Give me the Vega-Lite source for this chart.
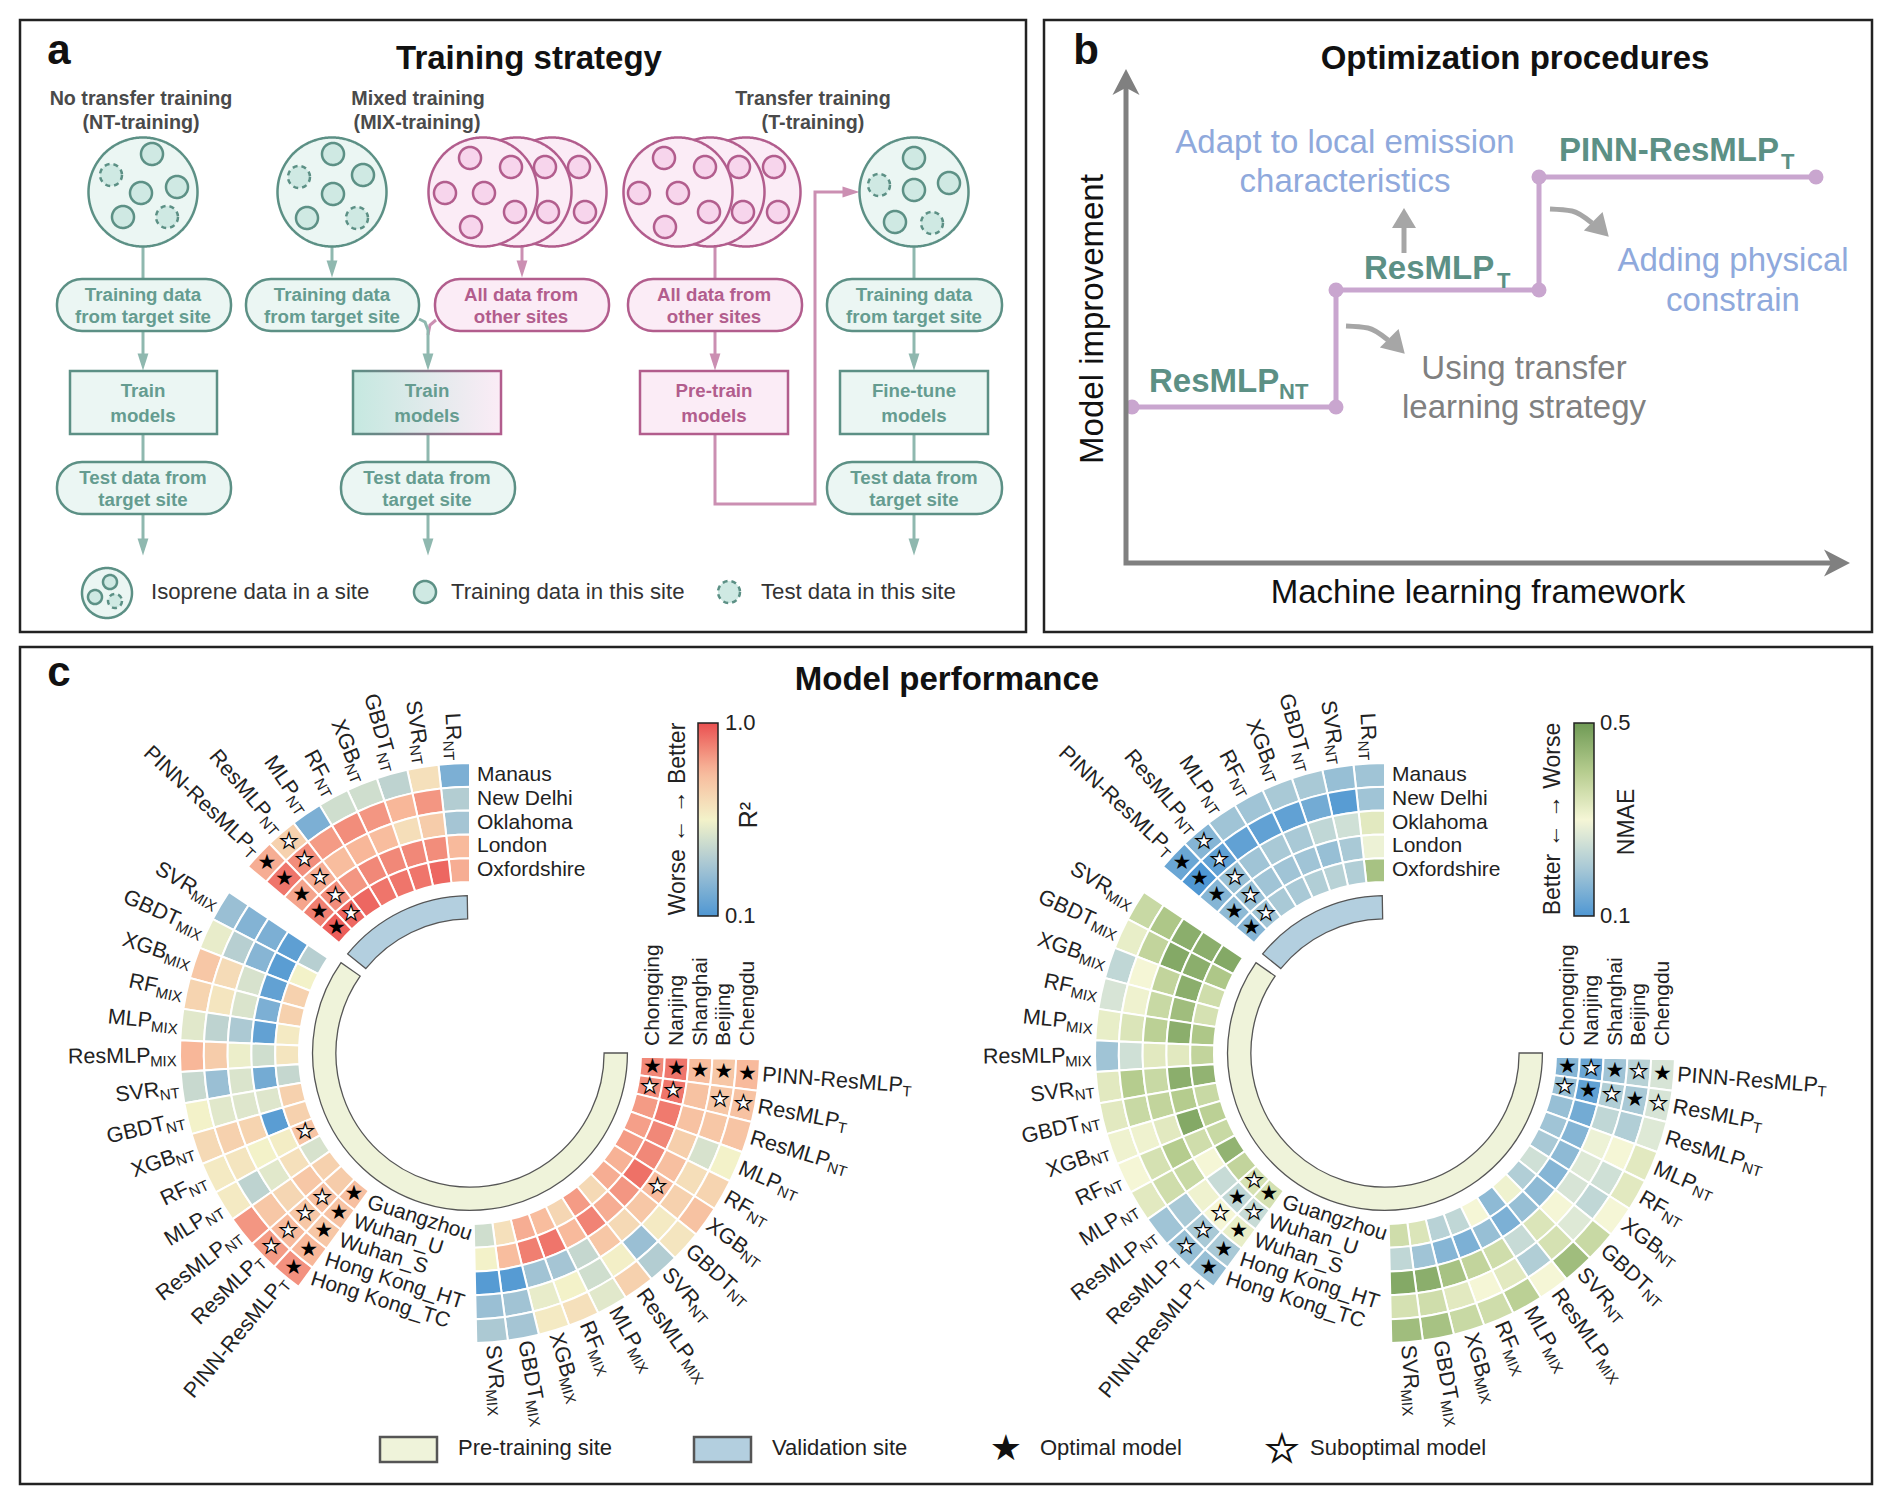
{"$schema":"https://vega.github.io/schema/vega-lite/v6.json","width":1892,"height":1505,"padding":0,"autosize":{"type":"none"},"background":"white","config":{"view":{"stroke":null},"text":{"font":"Liberation Sans"}},
"datasets":{"cells":[
{"p":"R2","m":"LR_NT","s":"Manaus","v":0.22},{"p":"R2","m":"SVR_NT","s":"Manaus","v":0.62},{"p":"R2","m":"GBDT_NT","s":"Manaus","v":0.40},{"p":"R2","m":"XGB_NT","s":"Manaus","v":0.45},{"p":"R2","m":"RF_NT","s":"Manaus","v":0.45},{"p":"R2","m":"MLP_NT","s":"Manaus","v":0.22},{"p":"R2","m":"ResMLP_NT","s":"Manaus","v":0.68,"k":"sub"},{"p":"R2","m":"PINN-ResMLP_T","s":"Manaus","v":0.80,"k":"opt"},
{"p":"R2","m":"LR_NT","s":"New Delhi","v":0.37},{"p":"R2","m":"SVR_NT","s":"New Delhi","v":0.85},{"p":"R2","m":"GBDT_NT","s":"New Delhi","v":0.78},{"p":"R2","m":"XGB_NT","s":"New Delhi","v":0.85},{"p":"R2","m":"RF_NT","s":"New Delhi","v":0.87},{"p":"R2","m":"MLP_NT","s":"New Delhi","v":0.84},{"p":"R2","m":"ResMLP_NT","s":"New Delhi","v":0.87,"k":"sub"},{"p":"R2","m":"PINN-ResMLP_T","s":"New Delhi","v":0.92,"k":"opt"},
{"p":"R2","m":"LR_NT","s":"Oklahoma","v":0.33},{"p":"R2","m":"SVR_NT","s":"Oklahoma","v":0.70},{"p":"R2","m":"GBDT_NT","s":"Oklahoma","v":0.63},{"p":"R2","m":"XGB_NT","s":"Oklahoma","v":0.76},{"p":"R2","m":"RF_NT","s":"Oklahoma","v":0.78},{"p":"R2","m":"MLP_NT","s":"Oklahoma","v":0.76},{"p":"R2","m":"ResMLP_NT","s":"Oklahoma","v":0.80,"k":"sub"},{"p":"R2","m":"PINN-ResMLP_T","s":"Oklahoma","v":0.82,"k":"opt"},
{"p":"R2","m":"LR_NT","s":"London","v":0.77},{"p":"R2","m":"SVR_NT","s":"London","v":0.87},{"p":"R2","m":"GBDT_NT","s":"London","v":0.88},{"p":"R2","m":"XGB_NT","s":"London","v":0.88},{"p":"R2","m":"RF_NT","s":"London","v":0.88},{"p":"R2","m":"MLP_NT","s":"London","v":0.85},{"p":"R2","m":"ResMLP_NT","s":"London","v":0.87,"k":"sub"},{"p":"R2","m":"PINN-ResMLP_T","s":"London","v":0.90,"k":"opt"},
{"p":"R2","m":"LR_NT","s":"Oxfordshire","v":0.80},{"p":"R2","m":"SVR_NT","s":"Oxfordshire","v":0.95},{"p":"R2","m":"GBDT_NT","s":"Oxfordshire","v":0.92},{"p":"R2","m":"XGB_NT","s":"Oxfordshire","v":0.92},{"p":"R2","m":"RF_NT","s":"Oxfordshire","v":0.92},{"p":"R2","m":"MLP_NT","s":"Oxfordshire","v":0.95},{"p":"R2","m":"ResMLP_NT","s":"Oxfordshire","v":0.95,"k":"sub"},{"p":"R2","m":"PINN-ResMLP_T","s":"Oxfordshire","v":0.97,"k":"opt"},
{"p":"R2","m":"SVR_MIX","s":"Hong Kong_TC","v":0.30},{"p":"R2","m":"SVR_MIX","s":"Hong Kong_HT","v":0.24},{"p":"R2","m":"SVR_MIX","s":"Wuhan_S","v":0.22},{"p":"R2","m":"SVR_MIX","s":"Wuhan_U","v":0.14},{"p":"R2","m":"SVR_MIX","s":"Guangzhou","v":0.38},
{"p":"R2","m":"GBDT_MIX","s":"Hong Kong_TC","v":0.52},{"p":"R2","m":"GBDT_MIX","s":"Hong Kong_HT","v":0.38},{"p":"R2","m":"GBDT_MIX","s":"Wuhan_S","v":0.25},{"p":"R2","m":"GBDT_MIX","s":"Wuhan_U","v":0.13},{"p":"R2","m":"GBDT_MIX","s":"Guangzhou","v":0.55},
{"p":"R2","m":"XGB_MIX","s":"Hong Kong_TC","v":0.72},{"p":"R2","m":"XGB_MIX","s":"Hong Kong_HT","v":0.64},{"p":"R2","m":"XGB_MIX","s":"Wuhan_S","v":0.47},{"p":"R2","m":"XGB_MIX","s":"Wuhan_U","v":0.15},{"p":"R2","m":"XGB_MIX","s":"Guangzhou","v":0.68},
{"p":"R2","m":"RF_MIX","s":"Hong Kong_TC","v":0.67},{"p":"R2","m":"RF_MIX","s":"Hong Kong_HT","v":0.60},{"p":"R2","m":"RF_MIX","s":"Wuhan_S","v":0.48},{"p":"R2","m":"RF_MIX","s":"Wuhan_U","v":0.22},{"p":"R2","m":"RF_MIX","s":"Guangzhou","v":0.68},
{"p":"R2","m":"MLP_MIX","s":"Hong Kong_TC","v":0.50},{"p":"R2","m":"MLP_MIX","s":"Hong Kong_HT","v":0.40},{"p":"R2","m":"MLP_MIX","s":"Wuhan_S","v":0.35},{"p":"R2","m":"MLP_MIX","s":"Wuhan_U","v":0.15},{"p":"R2","m":"MLP_MIX","s":"Guangzhou","v":0.58},
{"p":"R2","m":"ResMLP_MIX","s":"Hong Kong_TC","v":0.78},{"p":"R2","m":"ResMLP_MIX","s":"Hong Kong_HT","v":0.70},{"p":"R2","m":"ResMLP_MIX","s":"Wuhan_S","v":0.53},{"p":"R2","m":"ResMLP_MIX","s":"Wuhan_U","v":0.45},{"p":"R2","m":"ResMLP_MIX","s":"Guangzhou","v":0.60},
{"p":"R2","m":"SVR_NT","s":"Hong Kong_TC","v":0.43},{"p":"R2","m":"SVR_NT","s":"Hong Kong_HT","v":0.30},{"p":"R2","m":"SVR_NT","s":"Wuhan_S","v":0.48},{"p":"R2","m":"SVR_NT","s":"Wuhan_U","v":0.20},{"p":"R2","m":"SVR_NT","s":"Guangzhou","v":0.42},
{"p":"R2","m":"GBDT_NT","s":"Hong Kong_TC","v":0.55},{"p":"R2","m":"GBDT_NT","s":"Hong Kong_HT","v":0.50},{"p":"R2","m":"GBDT_NT","s":"Wuhan_S","v":0.49},{"p":"R2","m":"GBDT_NT","s":"Wuhan_U","v":0.49},{"p":"R2","m":"GBDT_NT","s":"Guangzhou","v":0.68},
{"p":"R2","m":"XGB_NT","s":"Hong Kong_TC","v":0.65},{"p":"R2","m":"XGB_NT","s":"Hong Kong_HT","v":0.68},{"p":"R2","m":"XGB_NT","s":"Wuhan_S","v":0.67},{"p":"R2","m":"XGB_NT","s":"Wuhan_U","v":0.13},{"p":"R2","m":"XGB_NT","s":"Guangzhou","v":0.68},
{"p":"R2","m":"RF_NT","s":"Hong Kong_TC","v":0.58},{"p":"R2","m":"RF_NT","s":"Hong Kong_HT","v":0.60},{"p":"R2","m":"RF_NT","s":"Wuhan_S","v":0.55},{"p":"R2","m":"RF_NT","s":"Wuhan_U","v":0.57},{"p":"R2","m":"RF_NT","s":"Guangzhou","v":0.73,"k":"sub"},
{"p":"R2","m":"MLP_NT","s":"Hong Kong_TC","v":0.58},{"p":"R2","m":"MLP_NT","s":"Hong Kong_HT","v":0.40},{"p":"R2","m":"MLP_NT","s":"Wuhan_S","v":0.50},{"p":"R2","m":"MLP_NT","s":"Wuhan_U","v":0.62},{"p":"R2","m":"MLP_NT","s":"Guangzhou","v":0.47},
{"p":"R2","m":"ResMLP_NT","s":"Hong Kong_TC","v":0.85},{"p":"R2","m":"ResMLP_NT","s":"Hong Kong_HT","v":0.72},{"p":"R2","m":"ResMLP_NT","s":"Wuhan_S","v":0.66},{"p":"R2","m":"ResMLP_NT","s":"Wuhan_U","v":0.72},{"p":"R2","m":"ResMLP_NT","s":"Guangzhou","v":0.68},
{"p":"R2","m":"ResMLP_T","s":"Hong Kong_TC","v":0.84,"k":"sub"},{"p":"R2","m":"ResMLP_T","s":"Hong Kong_HT","v":0.77,"k":"sub"},{"p":"R2","m":"ResMLP_T","s":"Wuhan_S","v":0.72,"k":"sub"},{"p":"R2","m":"ResMLP_T","s":"Wuhan_U","v":0.75,"k":"sub"},{"p":"R2","m":"ResMLP_T","s":"Guangzhou","v":0.70},
{"p":"R2","m":"PINN-ResMLP_T","s":"Hong Kong_TC","v":0.86,"k":"opt"},{"p":"R2","m":"PINN-ResMLP_T","s":"Hong Kong_HT","v":0.78,"k":"opt"},{"p":"R2","m":"PINN-ResMLP_T","s":"Wuhan_S","v":0.72,"k":"opt"},{"p":"R2","m":"PINN-ResMLP_T","s":"Wuhan_U","v":0.74,"k":"opt"},{"p":"R2","m":"PINN-ResMLP_T","s":"Guangzhou","v":0.75,"k":"opt"},
{"p":"R2","m":"PINN-ResMLP_T","s":"Chongqing","v":0.88,"k":"opt"},{"p":"R2","m":"PINN-ResMLP_T","s":"Nanjing","v":0.92,"k":"opt"},{"p":"R2","m":"PINN-ResMLP_T","s":"Shanghai","v":0.76,"k":"opt"},{"p":"R2","m":"PINN-ResMLP_T","s":"Beijing","v":0.72,"k":"opt"},{"p":"R2","m":"PINN-ResMLP_T","s":"Chengdu","v":0.77,"k":"opt"},
{"p":"R2","m":"ResMLP_T","s":"Chongqing","v":0.87,"k":"sub"},{"p":"R2","m":"ResMLP_T","s":"Nanjing","v":0.92,"k":"sub"},{"p":"R2","m":"ResMLP_T","s":"Shanghai","v":0.74},{"p":"R2","m":"ResMLP_T","s":"Beijing","v":0.72,"k":"sub"},{"p":"R2","m":"ResMLP_T","s":"Chengdu","v":0.74,"k":"sub"},
{"p":"R2","m":"ResMLP_NT","s":"Chongqing","v":0.84},{"p":"R2","m":"ResMLP_NT","s":"Nanjing","v":0.91},{"p":"R2","m":"ResMLP_NT","s":"Shanghai","v":0.74},{"p":"R2","m":"ResMLP_NT","s":"Beijing","v":0.72},{"p":"R2","m":"ResMLP_NT","s":"Chengdu","v":0.73},
{"p":"R2","m":"MLP_NT","s":"Chongqing","v":0.83},{"p":"R2","m":"MLP_NT","s":"Nanjing","v":0.88},{"p":"R2","m":"MLP_NT","s":"Shanghai","v":0.69},{"p":"R2","m":"MLP_NT","s":"Beijing","v":0.47},{"p":"R2","m":"MLP_NT","s":"Chengdu","v":0.55},
{"p":"R2","m":"RF_NT","s":"Chongqing","v":0.84},{"p":"R2","m":"RF_NT","s":"Nanjing","v":0.88},{"p":"R2","m":"RF_NT","s":"Shanghai","v":0.75},{"p":"R2","m":"RF_NT","s":"Beijing","v":0.63},{"p":"R2","m":"RF_NT","s":"Chengdu","v":0.67},
{"p":"R2","m":"XGB_NT","s":"Chongqing","v":0.79},{"p":"R2","m":"XGB_NT","s":"Nanjing","v":0.93},{"p":"R2","m":"XGB_NT","s":"Shanghai","v":0.77,"k":"sub"},{"p":"R2","m":"XGB_NT","s":"Beijing","v":0.68},{"p":"R2","m":"XGB_NT","s":"Chengdu","v":0.74},
{"p":"R2","m":"GBDT_NT","s":"Chongqing","v":0.80},{"p":"R2","m":"GBDT_NT","s":"Nanjing","v":0.85},{"p":"R2","m":"GBDT_NT","s":"Shanghai","v":0.72},{"p":"R2","m":"GBDT_NT","s":"Beijing","v":0.58},{"p":"R2","m":"GBDT_NT","s":"Chengdu","v":0.60},
{"p":"R2","m":"SVR_NT","s":"Chongqing","v":0.65},{"p":"R2","m":"SVR_NT","s":"Nanjing","v":0.80},{"p":"R2","m":"SVR_NT","s":"Shanghai","v":0.65},{"p":"R2","m":"SVR_NT","s":"Beijing","v":0.30},{"p":"R2","m":"SVR_NT","s":"Chengdu","v":0.37},
{"p":"R2","m":"ResMLP_MIX","s":"Chongqing","v":0.84},{"p":"R2","m":"ResMLP_MIX","s":"Nanjing","v":0.89},{"p":"R2","m":"ResMLP_MIX","s":"Shanghai","v":0.72},{"p":"R2","m":"ResMLP_MIX","s":"Beijing","v":0.56},{"p":"R2","m":"ResMLP_MIX","s":"Chengdu","v":0.68},
{"p":"R2","m":"MLP_MIX","s":"Chongqing","v":0.66},{"p":"R2","m":"MLP_MIX","s":"Nanjing","v":0.77},{"p":"R2","m":"MLP_MIX","s":"Shanghai","v":0.42},{"p":"R2","m":"MLP_MIX","s":"Beijing","v":0.45},{"p":"R2","m":"MLP_MIX","s":"Chengdu","v":0.50},
{"p":"R2","m":"RF_MIX","s":"Chongqing","v":0.76},{"p":"R2","m":"RF_MIX","s":"Nanjing","v":0.92},{"p":"R2","m":"RF_MIX","s":"Shanghai","v":0.33},{"p":"R2","m":"RF_MIX","s":"Beijing","v":0.55},{"p":"R2","m":"RF_MIX","s":"Chengdu","v":0.62},
{"p":"R2","m":"XGB_MIX","s":"Chongqing","v":0.80},{"p":"R2","m":"XGB_MIX","s":"Nanjing","v":0.90},{"p":"R2","m":"XGB_MIX","s":"Shanghai","v":0.32},{"p":"R2","m":"XGB_MIX","s":"Beijing","v":0.52},{"p":"R2","m":"XGB_MIX","s":"Chengdu","v":0.58},
{"p":"R2","m":"GBDT_MIX","s":"Chongqing","v":0.62},{"p":"R2","m":"GBDT_MIX","s":"Nanjing","v":0.76},{"p":"R2","m":"GBDT_MIX","s":"Shanghai","v":0.12},{"p":"R2","m":"GBDT_MIX","s":"Beijing","v":0.32},{"p":"R2","m":"GBDT_MIX","s":"Chengdu","v":0.33},
{"p":"R2","m":"SVR_MIX","s":"Chongqing","v":0.45},{"p":"R2","m":"SVR_MIX","s":"Nanjing","v":0.55},{"p":"R2","m":"SVR_MIX","s":"Shanghai","v":0.12},{"p":"R2","m":"SVR_MIX","s":"Beijing","v":0.30},{"p":"R2","m":"SVR_MIX","s":"Chengdu","v":0.35},
{"p":"NMAE","m":"LR_NT","s":"Manaus","v":0.19},{"p":"NMAE","m":"SVR_NT","s":"Manaus","v":0.18},{"p":"NMAE","m":"GBDT_NT","s":"Manaus","v":0.20},{"p":"NMAE","m":"XGB_NT","s":"Manaus","v":0.20},{"p":"NMAE","m":"RF_NT","s":"Manaus","v":0.19},{"p":"NMAE","m":"MLP_NT","s":"Manaus","v":0.19},{"p":"NMAE","m":"ResMLP_NT","s":"Manaus","v":0.16,"k":"sub"},{"p":"NMAE","m":"PINN-ResMLP_T","s":"Manaus","v":0.13,"k":"opt"},
{"p":"NMAE","m":"LR_NT","s":"New Delhi","v":0.19},{"p":"NMAE","m":"SVR_NT","s":"New Delhi","v":0.11},{"p":"NMAE","m":"GBDT_NT","s":"New Delhi","v":0.14},{"p":"NMAE","m":"XGB_NT","s":"New Delhi","v":0.12},{"p":"NMAE","m":"RF_NT","s":"New Delhi","v":0.12},{"p":"NMAE","m":"MLP_NT","s":"New Delhi","v":0.12},{"p":"NMAE","m":"ResMLP_NT","s":"New Delhi","v":0.12,"k":"sub"},{"p":"NMAE","m":"PINN-ResMLP_T","s":"New Delhi","v":0.10,"k":"opt"},
{"p":"NMAE","m":"LR_NT","s":"Oklahoma","v":0.33},{"p":"NMAE","m":"SVR_NT","s":"Oklahoma","v":0.25},{"p":"NMAE","m":"GBDT_NT","s":"Oklahoma","v":0.23},{"p":"NMAE","m":"XGB_NT","s":"Oklahoma","v":0.20},{"p":"NMAE","m":"RF_NT","s":"Oklahoma","v":0.20},{"p":"NMAE","m":"MLP_NT","s":"Oklahoma","v":0.19},{"p":"NMAE","m":"ResMLP_NT","s":"Oklahoma","v":0.18,"k":"sub"},{"p":"NMAE","m":"PINN-ResMLP_T","s":"Oklahoma","v":0.16,"k":"opt"},
{"p":"NMAE","m":"LR_NT","s":"London","v":0.29},{"p":"NMAE","m":"SVR_NT","s":"London","v":0.20},{"p":"NMAE","m":"GBDT_NT","s":"London","v":0.18},{"p":"NMAE","m":"XGB_NT","s":"London","v":0.19},{"p":"NMAE","m":"RF_NT","s":"London","v":0.19},{"p":"NMAE","m":"MLP_NT","s":"London","v":0.19},{"p":"NMAE","m":"ResMLP_NT","s":"London","v":0.18,"k":"sub"},{"p":"NMAE","m":"PINN-ResMLP_T","s":"London","v":0.17,"k":"opt"},
{"p":"NMAE","m":"LR_NT","s":"Oxfordshire","v":0.42},{"p":"NMAE","m":"SVR_NT","s":"Oxfordshire","v":0.21},{"p":"NMAE","m":"GBDT_NT","s":"Oxfordshire","v":0.22},{"p":"NMAE","m":"XGB_NT","s":"Oxfordshire","v":0.21},{"p":"NMAE","m":"RF_NT","s":"Oxfordshire","v":0.20},{"p":"NMAE","m":"MLP_NT","s":"Oxfordshire","v":0.20},{"p":"NMAE","m":"ResMLP_NT","s":"Oxfordshire","v":0.19,"k":"sub"},{"p":"NMAE","m":"PINN-ResMLP_T","s":"Oxfordshire","v":0.16,"k":"opt"},
{"p":"NMAE","m":"SVR_MIX","s":"Hong Kong_TC","v":0.37},{"p":"NMAE","m":"SVR_MIX","s":"Hong Kong_HT","v":0.41},{"p":"NMAE","m":"SVR_MIX","s":"Wuhan_S","v":0.46},{"p":"NMAE","m":"SVR_MIX","s":"Wuhan_U","v":0.46},{"p":"NMAE","m":"SVR_MIX","s":"Guangzhou","v":0.47},
{"p":"NMAE","m":"GBDT_MIX","s":"Hong Kong_TC","v":0.32},{"p":"NMAE","m":"GBDT_MIX","s":"Hong Kong_HT","v":0.38},{"p":"NMAE","m":"GBDT_MIX","s":"Wuhan_S","v":0.47},{"p":"NMAE","m":"GBDT_MIX","s":"Wuhan_U","v":0.46},{"p":"NMAE","m":"GBDT_MIX","s":"Guangzhou","v":0.41},
{"p":"NMAE","m":"XGB_MIX","s":"Hong Kong_TC","v":0.23},{"p":"NMAE","m":"XGB_MIX","s":"Hong Kong_HT","v":0.30},{"p":"NMAE","m":"XGB_MIX","s":"Wuhan_S","v":0.38},{"p":"NMAE","m":"XGB_MIX","s":"Wuhan_U","v":0.46},{"p":"NMAE","m":"XGB_MIX","s":"Guangzhou","v":0.36},
{"p":"NMAE","m":"RF_MIX","s":"Hong Kong_TC","v":0.26},{"p":"NMAE","m":"RF_MIX","s":"Hong Kong_HT","v":0.31},{"p":"NMAE","m":"RF_MIX","s":"Wuhan_S","v":0.37},{"p":"NMAE","m":"RF_MIX","s":"Wuhan_U","v":0.43},{"p":"NMAE","m":"RF_MIX","s":"Guangzhou","v":0.35},
{"p":"NMAE","m":"MLP_MIX","s":"Hong Kong_TC","v":0.32},{"p":"NMAE","m":"MLP_MIX","s":"Hong Kong_HT","v":0.34},{"p":"NMAE","m":"MLP_MIX","s":"Wuhan_S","v":0.39},{"p":"NMAE","m":"MLP_MIX","s":"Wuhan_U","v":0.46},{"p":"NMAE","m":"MLP_MIX","s":"Guangzhou","v":0.41},
{"p":"NMAE","m":"ResMLP_MIX","s":"Hong Kong_TC","v":0.19},{"p":"NMAE","m":"ResMLP_MIX","s":"Hong Kong_HT","v":0.25},{"p":"NMAE","m":"ResMLP_MIX","s":"Wuhan_S","v":0.33},{"p":"NMAE","m":"ResMLP_MIX","s":"Wuhan_U","v":0.33},{"p":"NMAE","m":"ResMLP_MIX","s":"Guangzhou","v":0.38},
{"p":"NMAE","m":"SVR_NT","s":"Hong Kong_TC","v":0.33},{"p":"NMAE","m":"SVR_NT","s":"Hong Kong_HT","v":0.40},{"p":"NMAE","m":"SVR_NT","s":"Wuhan_S","v":0.37},{"p":"NMAE","m":"SVR_NT","s":"Wuhan_U","v":0.46},{"p":"NMAE","m":"SVR_NT","s":"Guangzhou","v":0.45},
{"p":"NMAE","m":"GBDT_NT","s":"Hong Kong_TC","v":0.33},{"p":"NMAE","m":"GBDT_NT","s":"Hong Kong_HT","v":0.37},{"p":"NMAE","m":"GBDT_NT","s":"Wuhan_S","v":0.38},{"p":"NMAE","m":"GBDT_NT","s":"Wuhan_U","v":0.40},{"p":"NMAE","m":"GBDT_NT","s":"Guangzhou","v":0.37},
{"p":"NMAE","m":"XGB_NT","s":"Hong Kong_TC","v":0.31},{"p":"NMAE","m":"XGB_NT","s":"Hong Kong_HT","v":0.31},{"p":"NMAE","m":"XGB_NT","s":"Wuhan_S","v":0.33},{"p":"NMAE","m":"XGB_NT","s":"Wuhan_U","v":0.47},{"p":"NMAE","m":"XGB_NT","s":"Guangzhou","v":0.39},
{"p":"NMAE","m":"RF_NT","s":"Hong Kong_TC","v":0.30},{"p":"NMAE","m":"RF_NT","s":"Hong Kong_HT","v":0.35},{"p":"NMAE","m":"RF_NT","s":"Wuhan_S","v":0.40},{"p":"NMAE","m":"RF_NT","s":"Wuhan_U","v":0.36},{"p":"NMAE","m":"RF_NT","s":"Guangzhou","v":0.37},
{"p":"NMAE","m":"MLP_NT","s":"Hong Kong_TC","v":0.33},{"p":"NMAE","m":"MLP_NT","s":"Hong Kong_HT","v":0.36},{"p":"NMAE","m":"MLP_NT","s":"Wuhan_S","v":0.37},{"p":"NMAE","m":"MLP_NT","s":"Wuhan_U","v":0.30},{"p":"NMAE","m":"MLP_NT","s":"Guangzhou","v":0.45},
{"p":"NMAE","m":"ResMLP_NT","s":"Hong Kong_TC","v":0.19},{"p":"NMAE","m":"ResMLP_NT","s":"Hong Kong_HT","v":0.20},{"p":"NMAE","m":"ResMLP_NT","s":"Wuhan_S","v":0.31},{"p":"NMAE","m":"ResMLP_NT","s":"Wuhan_U","v":0.24},{"p":"NMAE","m":"ResMLP_NT","s":"Guangzhou","v":0.38},
{"p":"NMAE","m":"ResMLP_T","s":"Hong Kong_TC","v":0.18,"k":"sub"},{"p":"NMAE","m":"ResMLP_T","s":"Hong Kong_HT","v":0.20,"k":"sub"},{"p":"NMAE","m":"ResMLP_T","s":"Wuhan_S","v":0.30,"k":"sub"},{"p":"NMAE","m":"ResMLP_T","s":"Wuhan_U","v":0.23,"k":"opt"},{"p":"NMAE","m":"ResMLP_T","s":"Guangzhou","v":0.35,"k":"sub"},
{"p":"NMAE","m":"PINN-ResMLP_T","s":"Hong Kong_TC","v":0.18,"k":"opt"},{"p":"NMAE","m":"PINN-ResMLP_T","s":"Hong Kong_HT","v":0.20,"k":"opt"},{"p":"NMAE","m":"PINN-ResMLP_T","s":"Wuhan_S","v":0.32,"k":"opt"},{"p":"NMAE","m":"PINN-ResMLP_T","s":"Wuhan_U","v":0.24,"k":"sub"},{"p":"NMAE","m":"PINN-ResMLP_T","s":"Guangzhou","v":0.35,"k":"opt"},
{"p":"NMAE","m":"PINN-ResMLP_T","s":"Chongqing","v":0.16,"k":"opt"},{"p":"NMAE","m":"PINN-ResMLP_T","s":"Nanjing","v":0.13,"k":"sub"},{"p":"NMAE","m":"PINN-ResMLP_T","s":"Shanghai","v":0.19,"k":"opt"},{"p":"NMAE","m":"PINN-ResMLP_T","s":"Beijing","v":0.22,"k":"sub"},{"p":"NMAE","m":"PINN-ResMLP_T","s":"Chengdu","v":0.26,"k":"opt"},
{"p":"NMAE","m":"ResMLP_T","s":"Chongqing","v":0.18,"k":"sub"},{"p":"NMAE","m":"ResMLP_T","s":"Nanjing","v":0.12,"k":"opt"},{"p":"NMAE","m":"ResMLP_T","s":"Shanghai","v":0.21,"k":"sub"},{"p":"NMAE","m":"ResMLP_T","s":"Beijing","v":0.20,"k":"opt"},{"p":"NMAE","m":"ResMLP_T","s":"Chengdu","v":0.26,"k":"sub"},
{"p":"NMAE","m":"ResMLP_NT","s":"Chongqing","v":0.18},{"p":"NMAE","m":"ResMLP_NT","s":"Nanjing","v":0.14},{"p":"NMAE","m":"ResMLP_NT","s":"Shanghai","v":0.23},{"p":"NMAE","m":"ResMLP_NT","s":"Beijing","v":0.21},{"p":"NMAE","m":"ResMLP_NT","s":"Chengdu","v":0.27},
{"p":"NMAE","m":"MLP_NT","s":"Chongqing","v":0.19},{"p":"NMAE","m":"MLP_NT","s":"Nanjing","v":0.16},{"p":"NMAE","m":"MLP_NT","s":"Shanghai","v":0.29},{"p":"NMAE","m":"MLP_NT","s":"Beijing","v":0.30},{"p":"NMAE","m":"MLP_NT","s":"Chengdu","v":0.33},
{"p":"NMAE","m":"RF_NT","s":"Chongqing","v":0.20},{"p":"NMAE","m":"RF_NT","s":"Nanjing","v":0.17},{"p":"NMAE","m":"RF_NT","s":"Shanghai","v":0.27},{"p":"NMAE","m":"RF_NT","s":"Beijing","v":0.25},{"p":"NMAE","m":"RF_NT","s":"Chengdu","v":0.33},
{"p":"NMAE","m":"XGB_NT","s":"Chongqing","v":0.25},{"p":"NMAE","m":"XGB_NT","s":"Nanjing","v":0.16},{"p":"NMAE","m":"XGB_NT","s":"Shanghai","v":0.26},{"p":"NMAE","m":"XGB_NT","s":"Beijing","v":0.23},{"p":"NMAE","m":"XGB_NT","s":"Chengdu","v":0.30},
{"p":"NMAE","m":"GBDT_NT","s":"Chongqing","v":0.21},{"p":"NMAE","m":"GBDT_NT","s":"Nanjing","v":0.17},{"p":"NMAE","m":"GBDT_NT","s":"Shanghai","v":0.30},{"p":"NMAE","m":"GBDT_NT","s":"Beijing","v":0.27},{"p":"NMAE","m":"GBDT_NT","s":"Chengdu","v":0.37},
{"p":"NMAE","m":"SVR_NT","s":"Chongqing","v":0.31},{"p":"NMAE","m":"SVR_NT","s":"Nanjing","v":0.18},{"p":"NMAE","m":"SVR_NT","s":"Shanghai","v":0.34},{"p":"NMAE","m":"SVR_NT","s":"Beijing","v":0.35},{"p":"NMAE","m":"SVR_NT","s":"Chengdu","v":0.43},
{"p":"NMAE","m":"ResMLP_MIX","s":"Chongqing","v":0.17},{"p":"NMAE","m":"ResMLP_MIX","s":"Nanjing","v":0.15},{"p":"NMAE","m":"ResMLP_MIX","s":"Shanghai","v":0.24},{"p":"NMAE","m":"ResMLP_MIX","s":"Beijing","v":0.21},{"p":"NMAE","m":"ResMLP_MIX","s":"Chengdu","v":0.30},
{"p":"NMAE","m":"MLP_MIX","s":"Chongqing","v":0.30},{"p":"NMAE","m":"MLP_MIX","s":"Nanjing","v":0.18},{"p":"NMAE","m":"MLP_MIX","s":"Shanghai","v":0.36},{"p":"NMAE","m":"MLP_MIX","s":"Beijing","v":0.33},{"p":"NMAE","m":"MLP_MIX","s":"Chengdu","v":0.39},
{"p":"NMAE","m":"RF_MIX","s":"Chongqing","v":0.23},{"p":"NMAE","m":"RF_MIX","s":"Nanjing","v":0.15},{"p":"NMAE","m":"RF_MIX","s":"Shanghai","v":0.38},{"p":"NMAE","m":"RF_MIX","s":"Beijing","v":0.30},{"p":"NMAE","m":"RF_MIX","s":"Chengdu","v":0.36},
{"p":"NMAE","m":"XGB_MIX","s":"Chongqing","v":0.22},{"p":"NMAE","m":"XGB_MIX","s":"Nanjing","v":0.16},{"p":"NMAE","m":"XGB_MIX","s":"Shanghai","v":0.42},{"p":"NMAE","m":"XGB_MIX","s":"Beijing","v":0.33},{"p":"NMAE","m":"XGB_MIX","s":"Chengdu","v":0.37},
{"p":"NMAE","m":"GBDT_MIX","s":"Chongqing","v":0.34},{"p":"NMAE","m":"GBDT_MIX","s":"Nanjing","v":0.19},{"p":"NMAE","m":"GBDT_MIX","s":"Shanghai","v":0.46},{"p":"NMAE","m":"GBDT_MIX","s":"Beijing","v":0.36},{"p":"NMAE","m":"GBDT_MIX","s":"Chengdu","v":0.42},
{"p":"NMAE","m":"SVR_MIX","s":"Chongqing","v":0.36},{"p":"NMAE","m":"SVR_MIX","s":"Nanjing","v":0.23},{"p":"NMAE","m":"SVR_MIX","s":"Shanghai","v":0.47},{"p":"NMAE","m":"SVR_MIX","s":"Beijing","v":0.35},{"p":"NMAE","m":"SVR_MIX","s":"Chengdu","v":0.43}
],
"nodes":[
{"x":143,"y":192,"c":"target_site"},{"x":152,"y":154,"c":"target_sample"},{"x":111,"y":175,"c":"target_sample","d":"test"},{"x":177,"y":187,"c":"target_sample"},{"x":141,"y":193,"c":"target_sample"},{"x":123,"y":217,"c":"target_sample"},{"x":167,"y":217,"c":"target_sample","d":"test"},
{"x":332,"y":192,"c":"target_site"},{"x":333,"y":154,"c":"target_sample"},{"x":299,"y":177,"c":"target_sample","d":"test"},{"x":363,"y":175,"c":"target_sample"},{"x":333,"y":194,"c":"target_sample"},{"x":307,"y":218,"c":"target_sample"},{"x":357,"y":218,"c":"target_sample","d":"test"},
{"x":552,"y":192,"c":"other_site"},{"x":579,"y":167,"c":"other_sample"},{"x":585,"y":212,"c":"other_sample"},{"x":517,"y":192,"c":"other_site"},{"x":545,"y":167,"c":"other_sample"},{"x":548,"y":212,"c":"other_sample"},{"x":483,"y":192,"c":"other_site"},{"x":470,"y":158,"c":"other_sample"},{"x":511,"y":167,"c":"other_sample"},{"x":445,"y":193,"c":"other_sample"},{"x":484,"y":193,"c":"other_sample"},{"x":515,"y":212,"c":"other_sample"},{"x":471,"y":227,"c":"other_sample"},
{"x":746,"y":192,"c":"other_site"},{"x":774,"y":167,"c":"other_sample"},{"x":778,"y":212,"c":"other_sample"},{"x":710,"y":192,"c":"other_site"},{"x":739,"y":167,"c":"other_sample"},{"x":743,"y":212,"c":"other_sample"},{"x":678,"y":192,"c":"other_site"},{"x":664,"y":158,"c":"other_sample"},{"x":705,"y":167,"c":"other_sample"},{"x":639,"y":193,"c":"other_sample"},{"x":678,"y":193,"c":"other_sample"},{"x":709,"y":212,"c":"other_sample"},{"x":665,"y":227,"c":"other_sample"},
{"x":914,"y":192,"c":"target_site"},{"x":914,"y":158,"c":"target_sample"},{"x":879,"y":185,"c":"target_sample","d":"test"},{"x":949,"y":183,"c":"target_sample"},{"x":914,"y":190,"c":"target_sample"},{"x":895,"y":222,"c":"target_sample"},{"x":932,"y":223,"c":"target_sample","d":"test"},
{"x":107,"y":593,"c":"key_site"},{"x":110,"y":582,"c":"key_sample"},{"x":95,"y":597,"c":"key_sample"},{"x":115,"y":601,"c":"key_sample","d":"test"},
{"x":425,"y":592,"c":"target_sample"},{"x":729,"y":592,"c":"target_sample","d":"test"}
],
"lines":[
{"i":"n1","o":0,"x":143,"y":247,"c":"arrow_target"},{"i":"n1","o":1,"x":143,"y":279,"c":"arrow_target"},{"i":"n2","o":0,"x":143,"y":332,"c":"arrow_target"},{"i":"n2","o":1,"x":143,"y":365,"c":"arrow_target"},{"i":"n3","o":0,"x":143,"y":435,"c":"arrow_target"},{"i":"n3","o":1,"x":143,"y":462,"c":"arrow_target"},{"i":"n4","o":0,"x":143,"y":514,"c":"arrow_target"},{"i":"n4","o":1,"x":143,"y":550,"c":"arrow_target"},
{"i":"m1","o":0,"x":332,"y":247,"c":"arrow_target"},{"i":"m1","o":1,"x":332,"y":272,"c":"arrow_target"},{"i":"m2","o":0,"x":522,"y":246,"c":"arrow_other"},{"i":"m2","o":1,"x":522,"y":272,"c":"arrow_other"},
{"i":"m4","o":0,"x":436,"y":320,"c":"arrow_other"},{"i":"m4","o":1,"x":430,"y":325,"c":"arrow_other"},{"i":"m4","o":2,"x":428,"y":335,"c":"arrow_other"},
{"i":"m3","o":0,"x":419,"y":319,"c":"arrow_target"},{"i":"m3","o":1,"x":425,"y":322,"c":"arrow_target"},{"i":"m3","o":2,"x":428,"y":330,"c":"arrow_target"},{"i":"m3","o":3,"x":428,"y":365,"c":"arrow_target"},
{"i":"m5","o":0,"x":428,"y":435,"c":"arrow_target"},{"i":"m5","o":1,"x":428,"y":462,"c":"arrow_target"},{"i":"m6","o":0,"x":428,"y":514,"c":"arrow_target"},{"i":"m6","o":1,"x":428,"y":550,"c":"arrow_target"},
{"i":"t1","o":0,"x":715,"y":247,"c":"arrow_other"},{"i":"t1","o":1,"x":715,"y":279,"c":"arrow_other"},{"i":"t2","o":0,"x":715,"y":332,"c":"arrow_other"},{"i":"t2","o":1,"x":715,"y":365,"c":"arrow_other"},
{"i":"t3","o":0,"x":715,"y":435,"c":"arrow_other"},{"i":"t3","o":1,"x":715,"y":504,"c":"arrow_other"},{"i":"t3","o":2,"x":815,"y":504,"c":"arrow_other"},{"i":"t3","o":3,"x":815,"y":192,"c":"arrow_other"},{"i":"t3","o":4,"x":850,"y":192,"c":"arrow_other"},
{"i":"t4","o":0,"x":914,"y":247,"c":"arrow_target"},{"i":"t4","o":1,"x":914,"y":279,"c":"arrow_target"},{"i":"t5","o":0,"x":914,"y":332,"c":"arrow_target"},{"i":"t5","o":1,"x":914,"y":365,"c":"arrow_target"},{"i":"t6","o":0,"x":914,"y":435,"c":"arrow_target"},{"i":"t6","o":1,"x":914,"y":462,"c":"arrow_target"},{"i":"t7","o":0,"x":914,"y":514,"c":"arrow_target"},{"i":"t7","o":1,"x":914,"y":550,"c":"arrow_target"}
],
"modelLabels":[
{"g":0,"m":"LR_NT"},{"g":0,"m":"SVR_NT"},{"g":0,"m":"GBDT_NT"},{"g":0,"m":"XGB_NT"},{"g":0,"m":"RF_NT"},{"g":0,"m":"MLP_NT"},{"g":0,"m":"ResMLP_NT"},{"g":0,"m":"PINN-ResMLP_T"},
{"g":1,"m":"SVR_MIX"},{"g":1,"m":"GBDT_MIX"},{"g":1,"m":"XGB_MIX"},{"g":1,"m":"RF_MIX"},{"g":1,"m":"MLP_MIX"},{"g":1,"m":"ResMLP_MIX"},{"g":1,"m":"SVR_NT"},{"g":1,"m":"GBDT_NT"},{"g":1,"m":"XGB_NT"},{"g":1,"m":"RF_NT"},{"g":1,"m":"MLP_NT"},{"g":1,"m":"ResMLP_NT"},{"g":1,"m":"ResMLP_T"},{"g":1,"m":"PINN-ResMLP_T"},
{"g":2,"m":"SVR_MIX"},{"g":2,"m":"GBDT_MIX"},{"g":2,"m":"XGB_MIX"},{"g":2,"m":"RF_MIX"},{"g":2,"m":"MLP_MIX"},{"g":2,"m":"ResMLP_MIX"},{"g":2,"m":"SVR_NT"},{"g":2,"m":"GBDT_NT"},{"g":2,"m":"XGB_NT"},{"g":2,"m":"RF_NT"},{"g":2,"m":"MLP_NT"},{"g":2,"m":"ResMLP_NT"},{"g":2,"m":"ResMLP_T"},{"g":2,"m":"PINN-ResMLP_T"}
]},
"encoding":{"x":{"field":"x","type":"quantitative","scale":{"domain":[0,1892]},"axis":null},"y":{"field":"y","type":"quantitative","scale":{"domain":[1505,0]},"axis":null}},
"layer":[
{"data":{"values":[{"x":20,"y":20,"x2":1026,"y2":632},{"x":1044,"y":20,"x2":1872,"y2":632},{"x":20,"y":647,"x2":1872,"y2":1484}]},"mark":{"type":"rect","fill":null,"stroke":"#222222","strokeWidth":2.5},"encoding":{"x2":{"field":"x2"},"y2":{"field":"y2"}}},
{"data":{"name":"lines"},"mark":{"type":"line","strokeWidth":3,"opacity":1},"encoding":{"detail":{"field":"i"},"order":{"field":"o"},"stroke":{"field":"c","type":"nominal","legend":null,"scale":{"domain":["arrow_target","arrow_other","target_site","target_sample","other_site","other_sample","key_site","key_sample","target","other","pretrain","validation"],"range":["#8fb8af","#cb8fb2","#5c9085","#5c9085","#b25d8d","#b25d8d","#5c9085","#5c9085","#5c9085","#b25d8d","#555555","#555555"]}}}},
{"data":{"values":[{"x":143,"y":362},{"x":143,"y":547},{"x":332,"y":269},{"x":428,"y":362},{"x":428,"y":547},{"x":914,"y":362},{"x":914,"y":547}]},"mark":{"type":"point","shape":"M-0.32,-0.5L0.32,-0.5L0,0.5Z","filled":true,"size":1156,"color":"#8fb8af","opacity":1}},
{"data":{"values":[{"x":522,"y":269},{"x":715,"y":362}]},"mark":{"type":"point","shape":"M-0.32,-0.5L0.32,-0.5L0,0.5Z","filled":true,"size":1156,"color":"#cb8fb2","opacity":1}},
{"data":{"values":[{"x":851,"y":192}]},"mark":{"type":"point","shape":"M-0.32,-0.5L0.32,-0.5L0,0.5Z","filled":true,"size":1156,"color":"#cb8fb2","opacity":1,"angle":-90}},
{"data":{"values":[
{"x":57,"y":279,"x2":231,"y2":331,"c":"target"},{"x":57,"y":462,"x2":231,"y2":514,"c":"target"},{"x":246,"y":279,"x2":419,"y2":331,"c":"target"},{"x":435,"y":279,"x2":609,"y2":331,"c":"other"},{"x":341,"y":462,"x2":515,"y2":514,"c":"target"},{"x":628,"y":279,"x2":802,"y2":331,"c":"other"},{"x":827,"y":279,"x2":1002,"y2":331,"c":"target"},{"x":827,"y":462,"x2":1002,"y2":514,"c":"target"}]},
"mark":{"type":"rect","cornerRadius":25,"strokeWidth":2.5},"encoding":{"x2":{"field":"x2"},"y2":{"field":"y2"},"fill":{"field":"c","type":"nominal","legend":null,"scale":{"domain":["target","other","pretrain","validation","target_site","target_sample","other_site","other_sample","key_site","key_sample"],"range":["#ebf6f3","#fbecf6","#eff3da","#b3cfdf","#ebf6f3","#cfe9e3","#fbecf6","#f7d5ec","#ebf6f3","#cfe9e3"]}},"stroke":{"field":"c","type":"nominal","legend":null}}},
{"data":{"values":[{"x":70,"y":371,"x2":217,"y2":434,"c":"target"},{"x":640,"y":371,"x2":788,"y2":434,"c":"other"},{"x":840,"y":371,"x2":988,"y2":434,"c":"target"},{"x":380,"y":1437,"x2":437,"y2":1462,"c":"pretrain"},{"x":694,"y":1437,"x2":751,"y2":1462,"c":"validation"}]},
"mark":{"type":"rect","strokeWidth":2.5},"encoding":{"x2":{"field":"x2"},"y2":{"field":"y2"},"fill":{"field":"c","type":"nominal","legend":null},"stroke":{"field":"c","type":"nominal","legend":null}}},
{"data":{"values":[{"x":353,"y":371,"x2":501,"y2":434}]},"mark":{"type":"rect","strokeWidth":2.5,"fill":{"gradient":"linear","x1":0,"x2":1,"y1":0,"y2":0,"stops":[{"offset":0,"color":"#c5e8e0"},{"offset":1,"color":"#fbecf6"}]},"stroke":{"gradient":"linear","x1":0,"x2":1,"y1":0,"y2":0,"stops":[{"offset":0,"color":"#5c9085"},{"offset":1,"color":"#b25d8d"}]}},"encoding":{"x2":{"field":"x2"},"y2":{"field":"y2"}}},
{"data":{"name":"nodes"},"transform":[{"calculate":"datum.d||'train'","as":"split"}],"mark":{"type":"point","shape":"circle","strokeWidth":2.5,"opacity":1,"fillOpacity":1},"encoding":{"fill":{"field":"c","type":"nominal","legend":null},"stroke":{"field":"c","type":"nominal","legend":null},"size":{"field":"c","type":"nominal","legend":null,"scale":{"type":"ordinal","domain":["target_site","other_site","target_sample","other_sample","key_site","key_sample"],"range":[11881,11881,484,484,2500,196]}},"strokeDash":{"field":"split","type":"nominal","legend":null,"scale":{"domain":["train","test"],"range":[[1,0],[5,4]]}}}},
{"data":{"values":[{"x":59,"y":51,"t":"a"},{"x":1086,"y":51,"t":"b"},{"x":59,"y":673,"t":"c"}]},"mark":{"type":"text","fontWeight":"bold","fontSize":42,"color":"#111111","align":"center","baseline":"middle"},"encoding":{"text":{"field":"t"}}},
{"data":{"values":[{"x":529,"y":59,"t":"Training strategy"},{"x":1515,"y":59,"t":"Optimization procedures"},{"x":947,"y":680,"t":"Model performance"}]},"mark":{"type":"text","fontWeight":"bold","fontSize":33,"color":"#111111","align":"center","baseline":"middle"},"encoding":{"text":{"field":"t"}}},
{"data":{"values":[{"x":141,"y":99,"t":"No transfer training"},{"x":141,"y":123,"t":"(NT-training)"},{"x":418,"y":99,"t":"Mixed training"},{"x":417,"y":123,"t":"(MIX-training)"},{"x":813,"y":99,"t":"Transfer training"},{"x":813,"y":123,"t":"(T-training)"}]},"mark":{"type":"text","fontWeight":"bold","fontSize":19.7,"color":"#4a4a4a","align":"center","baseline":"middle"},"encoding":{"text":{"field":"t"}}},
{"data":{"values":[{"x":143,"y":295,"t":"Training data"},{"x":143,"y":317,"t":"from target site"},{"x":332,"y":295,"t":"Training data"},{"x":332,"y":317,"t":"from target site"},{"x":914,"y":295,"t":"Training data"},{"x":914,"y":317,"t":"from target site"},{"x":143,"y":478,"t":"Test data from"},{"x":143,"y":500,"t":"target site"},{"x":427,"y":478,"t":"Test data from"},{"x":427,"y":500,"t":"target site"},{"x":914,"y":478,"t":"Test data from"},{"x":914,"y":500,"t":"target site"},{"x":143,"y":391,"t":"Train"},{"x":143,"y":416,"t":"models"},{"x":427,"y":391,"t":"Train"},{"x":427,"y":416,"t":"models"},{"x":914,"y":391,"t":"Fine-tune"},{"x":914,"y":416,"t":"models"}]},"mark":{"type":"text","fontWeight":"bold","fontSize":18.7,"color":"#659c90","align":"center","baseline":"middle"},"encoding":{"text":{"field":"t"}}},
{"data":{"values":[{"x":521,"y":295,"t":"All data from"},{"x":521,"y":317,"t":"other sites"},{"x":714,"y":295,"t":"All data from"},{"x":714,"y":317,"t":"other sites"},{"x":714,"y":391,"t":"Pre-train"},{"x":714,"y":416,"t":"models"}]},"mark":{"type":"text","fontWeight":"bold","fontSize":18.7,"color":"#b25d8d","align":"center","baseline":"middle"},"encoding":{"text":{"field":"t"}}},
{"data":{"values":[{"x":151,"y":592,"t":"Isoprene data in a site"},{"x":451,"y":592,"t":"Training data in this site"},{"x":761,"y":592,"t":"Test data in this site"}]},"mark":{"type":"text","fontSize":22.2,"color":"#333333","align":"left","baseline":"middle"},"encoding":{"text":{"field":"t"}}},
{"data":{"values":[{"o":0,"x":1132,"y":407},{"o":1,"x":1336,"y":407},{"o":2,"x":1336,"y":290},{"o":3,"x":1539,"y":290},{"o":4,"x":1539,"y":177},{"o":5,"x":1816,"y":177}]},"layer":[{"mark":{"type":"line","color":"#c9a6cf","strokeWidth":5},"encoding":{"order":{"field":"o"}}},{"mark":{"type":"circle","color":"#c9a6cf","size":225,"opacity":1}}]},
{"data":{"values":[{"o":0,"x":1126,"y":85},{"o":1,"x":1126,"y":563},{"o":2,"x":1832,"y":563}]},"mark":{"type":"line","color":"#808080","strokeWidth":5},"encoding":{"order":{"field":"o"}}},
{"data":{"values":[{"x":1126,"y":82}]},"mark":{"type":"point","shape":"M0,-0.5L0.52,0.5L0,0.22L-0.52,0.5Z","filled":true,"size":2704,"color":"#808080","opacity":1}},
{"data":{"values":[{"x":1837,"y":563}]},"mark":{"type":"point","shape":"M0,-0.5L0.52,0.5L0,0.22L-0.52,0.5Z","filled":true,"size":2704,"color":"#808080","opacity":1,"angle":90}},
{"data":{"values":[{"i":"a","o":0,"x":1346,"y":326},{"i":"a","o":1,"x":1368,"y":328},{"i":"a","o":2,"x":1388,"y":340},{"i":"b","o":0,"x":1550,"y":209},{"i":"b","o":1,"x":1572,"y":211},{"i":"b","o":2,"x":1592,"y":223},{"i":"c","o":0,"x":1404,"y":253},{"i":"c","o":1,"x":1404,"y":222}]},"mark":{"type":"line","color":"#a6a6a6","strokeWidth":5,"interpolate":"monotone"},"encoding":{"detail":{"field":"i"},"order":{"field":"o"}}},
{"data":{"values":[{"x":1397,"y":346},{"x":1601,"y":229}]},"mark":{"type":"point","shape":"M-0.6,-0.5L0.6,-0.5L0,0.5Z","filled":true,"size":1936,"color":"#a6a6a6","opacity":1,"angle":-45}},
{"data":{"values":[{"x":1404,"y":218}]},"mark":{"type":"point","shape":"M-0.6,-0.5L0.6,-0.5L0,0.5Z","filled":true,"size":1600,"color":"#a6a6a6","opacity":1,"angle":180}},
{"data":{"values":[{"x":1149,"y":382,"t":"ResMLP"},{"x":1364,"y":269,"t":"ResMLP"},{"x":1559,"y":151,"t":"PINN-ResMLP"}]},"mark":{"type":"text","fontWeight":"bold","fontSize":33,"color":"#5c9085","align":"left","baseline":"middle"},"encoding":{"text":{"field":"t"}}},
{"data":{"values":[{"x":1279,"y":392,"t":"NT"},{"x":1497,"y":281,"t":"T"},{"x":1781,"y":162,"t":"T"}]},"mark":{"type":"text","fontWeight":"bold","fontSize":22,"color":"#5c9085","align":"left","baseline":"middle"},"encoding":{"text":{"field":"t"}}},
{"data":{"values":[{"x":1345,"y":143,"t":"Adapt to local emission"},{"x":1345,"y":182,"t":"characteristics"},{"x":1733,"y":261,"t":"Adding physical"},{"x":1733,"y":301,"t":"constrain"}]},"mark":{"type":"text","fontSize":33,"color":"#8fa9dc","align":"center","baseline":"middle"},"encoding":{"text":{"field":"t"}}},
{"data":{"values":[{"x":1524,"y":369,"t":"Using transfer"},{"x":1524,"y":408,"t":"learning strategy"}]},"mark":{"type":"text","fontSize":33,"color":"#808080","align":"center","baseline":"middle"},"encoding":{"text":{"field":"t"}}},
{"data":{"values":[{"x":1478,"y":593,"t":"Machine learning framework"}]},"mark":{"type":"text","fontSize":33,"color":"#111111","align":"center","baseline":"middle"},"encoding":{"text":{"field":"t"}}},
{"data":{"values":[{"x":1093,"y":319,"t":"Model improvement"}]},"mark":{"type":"text","fontSize":33,"color":"#111111","align":"center","baseline":"middle","angle":-90},"encoding":{"text":{"field":"t"}}},
{"data":{"values":[{"x":678,"y":819,"t":"Worse ←        → Better"},{"x":1553,"y":819,"t":"Better ←        → Worse"},{"x":1627,"y":822,"t":"NMAE"}]},"mark":{"type":"text","fontSize":23,"color":"#222222","align":"center","baseline":"middle","angle":-90},"encoding":{"text":{"field":"t"}}},
{"data":{"values":[{"x":749,"y":815,"t":"R²"}]},"mark":{"type":"text","fontSize":25,"color":"#222222","align":"center","baseline":"middle","angle":-90},"encoding":{"text":{"field":"t"}}},
{"data":{"values":[{"x":725,"y":723,"t":"1.0"},{"x":725,"y":916,"t":"0.1"},{"x":1600,"y":723,"t":"0.5"},{"x":1600,"y":916,"t":"0.1"}]},"mark":{"type":"text","fontSize":22,"color":"#222222","align":"left","baseline":"middle"},"encoding":{"text":{"field":"t"}}},
{"data":{"values":[{"x":458,"y":1448,"t":"Pre-training site"},{"x":772,"y":1448,"t":"Validation site"},{"x":1040,"y":1448,"t":"Optimal model"},{"x":1310,"y":1448,"t":"Suboptimal model"}]},"mark":{"type":"text","fontSize":22,"color":"#222222","align":"left","baseline":"middle"},"encoding":{"text":{"field":"t"}}},
{"data":{"values":[{"x":1006,"y":1449,"t":"★"}]},"mark":{"type":"text","font":"DejaVu Sans","fontSize":36,"color":"#111111","align":"center","baseline":"middle"},"encoding":{"text":{"field":"t"}}},
{"data":{"values":[{"x":1282,"y":1450,"t":"★"}]},"mark":{"type":"text","font":"DejaVu Sans","fontSize":36,"fill":"white","stroke":"#111111","strokeWidth":2,"align":"center","baseline":"middle"},"encoding":{"text":{"field":"t"}}},
{"data":{"values":[{"c":"validation","a0":-8.16,"a1":-0.16,"x":470,"y":1053},{"c":"pretrain","a0":14.4,"a1":48.8,"x":470,"y":1053},{"c":"validation","a0":-8.16,"a1":-0.16,"x":1385,"y":1053},{"c":"pretrain","a0":14.4,"a1":48.8,"x":1385,"y":1053}]},"mark":{"type":"arc","strokeWidth":1.3},"encoding":{"theta":{"field":"a0","type":"quantitative","stack":null,"scale":{"type":"linear","domain":[0,57.6],"range":[0,6.283185]}},"theta2":{"field":"a1"},"radius":{"datum":-1.55,"type":"quantitative","scale":{"type":"linear","domain":[0,5],"range":[171,290]}},"radius2":{"datum":-0.57},"fill":{"field":"c","type":"nominal","legend":null},"stroke":{"field":"c","type":"nominal","legend":null}}},
{"data":{"name":"cells"},"transform":[{"filter":"datum.p=='R2'"},{"calculate":"470","as":"x"},{"calculate":"1053","as":"y"},{"calculate":"indexof(['Oxfordshire','London','Oklahoma','New Delhi','Manaus','Guangzhou','Wuhan_U','Wuhan_S','Hong Kong_HT','Hong Kong_TC','Chongqing','Nanjing','Shanghai','Beijing','Chengdu'],datum.s)","as":"idx"},{"calculate":"floor(datum.idx/5)","as":"g"},{"calculate":"datum.g==0?indexof(['PINN-ResMLP_T','ResMLP_NT','MLP_NT','RF_NT','XGB_NT','GBDT_NT','SVR_NT','LR_NT'],datum.m):indexof(['PINN-ResMLP_T','ResMLP_T','ResMLP_NT','MLP_NT','RF_NT','XGB_NT','GBDT_NT','SVR_NT','ResMLP_MIX','MLP_MIX','RF_MIX','XGB_MIX','GBDT_MIX','SVR_MIX'],datum.m)","as":"col"},{"calculate":"[-8,34.6,14.6][datum.g]+datum.col","as":"a0"},{"calculate":"datum.a0+1","as":"a1"},{"calculate":"datum.idx%5","as":"r0"},{"calculate":"datum.r0+1","as":"r1"}],
"mark":{"type":"arc","stroke":"white","strokeWidth":2},"encoding":{"theta":{"field":"a0","type":"quantitative","stack":null,"scale":{"type":"linear","domain":[0,57.6],"range":[0,6.283185]}},"theta2":{"field":"a1"},"radius":{"field":"r0","type":"quantitative","scale":{"type":"linear","domain":[0,5],"range":[171,290]}},"radius2":{"field":"r1"},
"color":{"field":"v","type":"quantitative","scale":{"type":"linear","interpolate":"rgb","domain":[0.1,0.325,0.55,0.775,1.0],"range":["#4f97d3","#a3c4d4","#f3f2c9","#f8b99b","#ea5050"]},"legend":{"orient":"none","legendX":698,"legendY":723,"title":null,"direction":"vertical","gradientLength":193,"gradientThickness":20,"values":[0.1,1.0],"labelExpr":"''","labelFontSize":1,"gradientStrokeColor":"#222222","gradientStrokeWidth":1.5,"labelOverlap":false}}}},
{"data":{"name":"cells"},"transform":[{"filter":"datum.p=='NMAE'"},{"calculate":"1385","as":"x"},{"calculate":"1053","as":"y"},{"calculate":"indexof(['Oxfordshire','London','Oklahoma','New Delhi','Manaus','Guangzhou','Wuhan_U','Wuhan_S','Hong Kong_HT','Hong Kong_TC','Chongqing','Nanjing','Shanghai','Beijing','Chengdu'],datum.s)","as":"idx"},{"calculate":"floor(datum.idx/5)","as":"g"},{"calculate":"datum.g==0?indexof(['PINN-ResMLP_T','ResMLP_NT','MLP_NT','RF_NT','XGB_NT','GBDT_NT','SVR_NT','LR_NT'],datum.m):indexof(['PINN-ResMLP_T','ResMLP_T','ResMLP_NT','MLP_NT','RF_NT','XGB_NT','GBDT_NT','SVR_NT','ResMLP_MIX','MLP_MIX','RF_MIX','XGB_MIX','GBDT_MIX','SVR_MIX'],datum.m)","as":"col"},{"calculate":"[-8,34.6,14.6][datum.g]+datum.col","as":"a0"},{"calculate":"datum.a0+1","as":"a1"},{"calculate":"datum.idx%5","as":"r0"},{"calculate":"datum.r0+1","as":"r1"}],
"mark":{"type":"arc","stroke":"white","strokeWidth":2},"encoding":{"theta":{"field":"a0","type":"quantitative","stack":null,"scale":{"type":"linear","domain":[0,57.6],"range":[0,6.283185]}},"theta2":{"field":"a1"},"radius":{"field":"r0","type":"quantitative","scale":{"type":"linear","domain":[0,5],"range":[171,290]}},"radius2":{"field":"r1"},
"color":{"field":"v","type":"quantitative","scale":{"type":"linear","interpolate":"rgb","domain":[0.1,0.2,0.3,0.4,0.5],"range":["#4f97d3","#a9c9d6","#f5f6d6","#b5cc8e","#6f9a55"]},"legend":{"orient":"none","legendX":1574,"legendY":723,"title":null,"direction":"vertical","gradientLength":193,"gradientThickness":20,"values":[0.1,0.5],"labelExpr":"''","labelFontSize":1,"gradientStrokeColor":"#222222","gradientStrokeWidth":1.5,"labelOverlap":false}}}},
{"data":{"name":"cells"},"transform":[{"filter":"datum.k"},{"calculate":"datum.p=='R2'?470:1385","as":"x"},{"calculate":"1053","as":"y"},{"calculate":"indexof(['Oxfordshire','London','Oklahoma','New Delhi','Manaus','Guangzhou','Wuhan_U','Wuhan_S','Hong Kong_HT','Hong Kong_TC','Chongqing','Nanjing','Shanghai','Beijing','Chengdu'],datum.s)","as":"idx"},{"calculate":"floor(datum.idx/5)","as":"g"},{"calculate":"datum.g==0?indexof(['PINN-ResMLP_T','ResMLP_NT','MLP_NT','RF_NT','XGB_NT','GBDT_NT','SVR_NT','LR_NT'],datum.m):indexof(['PINN-ResMLP_T','ResMLP_T','ResMLP_NT','MLP_NT','RF_NT','XGB_NT','GBDT_NT','SVR_NT','ResMLP_MIX','MLP_MIX','RF_MIX','XGB_MIX','GBDT_MIX','SVR_MIX'],datum.m)","as":"col"},{"calculate":"[-8,34.6,14.6][datum.g]+datum.col+0.5","as":"am"},{"calculate":"datum.idx%5+0.5","as":"rm"},{"calculate":"'★'","as":"star"}],
"layer":[
{"transform":[{"filter":"datum.k=='opt'"}],"mark":{"type":"text","font":"DejaVu Sans","fontSize":21,"color":"#000000","align":"center","baseline":"middle"},"encoding":{"theta":{"field":"am","type":"quantitative","stack":null,"scale":{"type":"linear","domain":[0,57.6],"range":[0,6.283185]}},"radius":{"field":"rm","type":"quantitative","scale":{"type":"linear","domain":[0,5],"range":[171,290]}},"text":{"field":"star"}}},
{"transform":[{"filter":"datum.k=='sub'"}],"mark":{"type":"text","font":"DejaVu Sans","fontSize":21,"fill":"white","stroke":"#000000","strokeWidth":1.1,"align":"center","baseline":"middle"},"encoding":{"theta":{"field":"am","type":"quantitative","stack":null,"scale":{"type":"linear","domain":[0,57.6],"range":[0,6.283185]}},"radius":{"field":"rm","type":"quantitative","scale":{"type":"linear","domain":[0,5],"range":[171,290]}},"text":{"field":"star"}}}
]},
{"data":{"name":"modelLabels"},"transform":[{"calculate":"[470,1385]","as":"x"},{"flatten":["x"]},{"calculate":"1053","as":"y"},{"calculate":"datum.g==0?indexof(['PINN-ResMLP_T','ResMLP_NT','MLP_NT','RF_NT','XGB_NT','GBDT_NT','SVR_NT','LR_NT'],datum.m):indexof(['PINN-ResMLP_T','ResMLP_T','ResMLP_NT','MLP_NT','RF_NT','XGB_NT','GBDT_NT','SVR_NT','ResMLP_MIX','MLP_MIX','RF_MIX','XGB_MIX','GBDT_MIX','SVR_MIX'],datum.m)","as":"col"},{"calculate":"([-8,34.6,14.6][datum.g]+datum.col+0.5)*6.25","as":"deg"},{"calculate":"datum.deg*PI/180","as":"th"},{"calculate":"split(datum.m,'_')[0]","as":"base"},{"calculate":"split(datum.m,'_')[1]","as":"sub"},{"calculate":"{'PINN-ResMLP':141,'ResMLP':82,'MLP':44,'RF':28.5,'XGB':45,'GBDT':59.5,'SVR':44,'LR':27.5}[datum.base]","as":"bw"},{"calculate":"{'NT':20,'MIX':27,'T':9}[datum.sub]","as":"sw"},{"calculate":"datum.g==2?datum.deg-90:datum.deg-270","as":"rot"},{"calculate":"datum.g==2?293:293+datum.sw+datum.bw","as":"rb"},{"calculate":"datum.g==2?293+datum.bw:293+datum.sw","as":"rs"}],
"layer":[
{"mark":{"type":"text","fontSize":21.5,"color":"#222222","align":"left","baseline":"middle"},"encoding":{"theta":{"field":"th","type":"quantitative","stack":null,"scale":null},"radius":{"field":"rb","type":"quantitative","scale":null},"angle":{"field":"rot","type":"quantitative","scale":null},"text":{"field":"base"}}},
{"mark":{"type":"text","fontSize":15,"color":"#222222","align":"left","baseline":"middle","dy":5},"encoding":{"theta":{"field":"th","type":"quantitative","stack":null,"scale":null},"radius":{"field":"rs","type":"quantitative","scale":null},"angle":{"field":"rot","type":"quantitative","scale":null},"text":{"field":"sub"}}}
]},
{"data":{"values":[{"s":"Oxfordshire"},{"s":"London"},{"s":"Oklahoma"},{"s":"New Delhi"},{"s":"Manaus"},{"s":"Guangzhou"},{"s":"Wuhan_U"},{"s":"Wuhan_S"},{"s":"Hong Kong_HT"},{"s":"Hong Kong_TC"},{"s":"Chongqing"},{"s":"Nanjing"},{"s":"Shanghai"},{"s":"Beijing"},{"s":"Chengdu"}]},"transform":[{"calculate":"[470,1385]","as":"x"},{"flatten":["x"]},{"calculate":"1053","as":"y"},{"calculate":"indexof(['Oxfordshire','London','Oklahoma','New Delhi','Manaus','Guangzhou','Wuhan_U','Wuhan_S','Hong Kong_HT','Hong Kong_TC','Chongqing','Nanjing','Shanghai','Beijing','Chengdu'],datum.s)","as":"idx"},{"calculate":"floor(datum.idx/5)","as":"g"},{"calculate":"datum.idx%5+0.5","as":"rm"},{"calculate":"[0,216.5,90][datum.g]*PI/180","as":"th"},{"calculate":"[0,17.5,-90][datum.g]","as":"rot"}],
"mark":{"type":"text","fontSize":21,"color":"#222222","align":"left","baseline":"middle","dx":7},"encoding":{"theta":{"field":"th","type":"quantitative","stack":null,"scale":null},"radius":{"field":"rm","type":"quantitative","scale":{"type":"linear","domain":[0,5],"range":[171,290]}},"angle":{"field":"rot","type":"quantitative","scale":null},"text":{"field":"s"}}}
],
"resolve":{"scale":{"color":"independent"}}}
